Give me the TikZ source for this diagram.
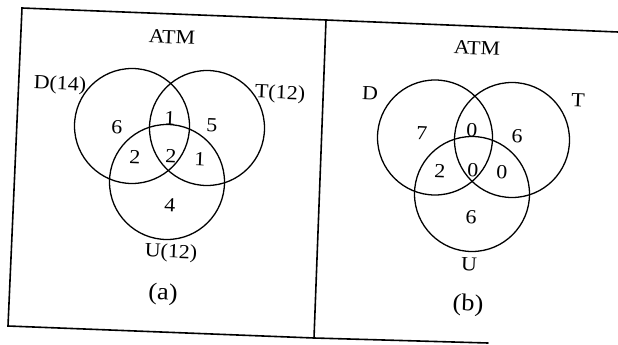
\documentclass[tikz,border=0pt]{standalone}
\usepackage{fontspec}
\setmainfont{Liberation Serif}
\begin{document}
\begin{tikzpicture}[x=1pt,y=-1pt,
  lbl/.style={inner sep=0pt, rotate=-2.3, xscale=1.1, font=\fontsize{20}{22}\selectfont},
  caplbl/.style={lbl, font=\fontsize{24}{26}\selectfont},
  venn/.style={draw, circle, line width=1.3pt, minimum size=115pt, inner sep=0pt},
  frame/.style={line width=1.6pt, line cap=round, line join=miter}]
\useasboundingbox (0,0) rectangle (618,345);
% frame
\coordinate (tl) at (22,8);
\coordinate (tm) at (326,20);
\coordinate (tr) at (618,32);
\coordinate (bl) at (8,326);
\coordinate (bm) at (314,338);
\coordinate (br) at (488,343);
\draw[frame] (tr) -- (tm) -- (tl) -- (bl) -- (bm) -- (br);
\draw[frame] (tm) -- (bm);
% panel (a)
\node[venn] (aD) at (132,126) {};
\node[venn] (aT) at (207,128) {};
\node[venn] (aU) at (167,182) {};
\node[lbl] (aATM) at (172,37) {ATM};
\node[lbl] (aDl) at (60,85) {D(14)};
\node[lbl] (aTl) at (280,94) {T(12)};
\node[lbl] (aUl) at (171,253) {U(12)};
\node[lbl] (aD0) at (117,127) {6};
\node[lbl] (aDT) at (170,118) {1};
\node[lbl] (aT0) at (212,125) {5};
\node[lbl] (aDU) at (135,157) {2};
\node[lbl] (aDTU) at (171,156) {2};
\node[lbl] (aTU) at (200,159) {1};
\node[lbl] (aU0) at (170,205) {4};
\node[caplbl] (acap) at (163,294) {(a)};
% panel (b)
\node[venn] (bD) at (435,137.5) {};
\node[venn] (bT) at (512,140) {};
\node[venn] (bU) at (472,194) {};
\node[lbl] (bATM) at (477,48) {ATM};
\node[lbl] (bDl) at (370,93) {D};
\node[lbl] (bTl) at (578,100) {T};
\node[lbl] (bUl) at (469,264) {U};
\node[lbl] (bD0) at (422,133) {7};
\node[lbl] (bDT) at (472,130) {0};
\node[lbl] (bT0) at (517,136) {6};
\node[lbl] (bDU) at (440,171) {2};
\node[lbl] (bDTU) at (473,170) {0};
\node[lbl] (bTU) at (502,172) {0};
\node[lbl] (bU0) at (471,217) {6};
\node[caplbl] (bcap) at (468,305) {(b)};
\end{tikzpicture}
\end{document}
